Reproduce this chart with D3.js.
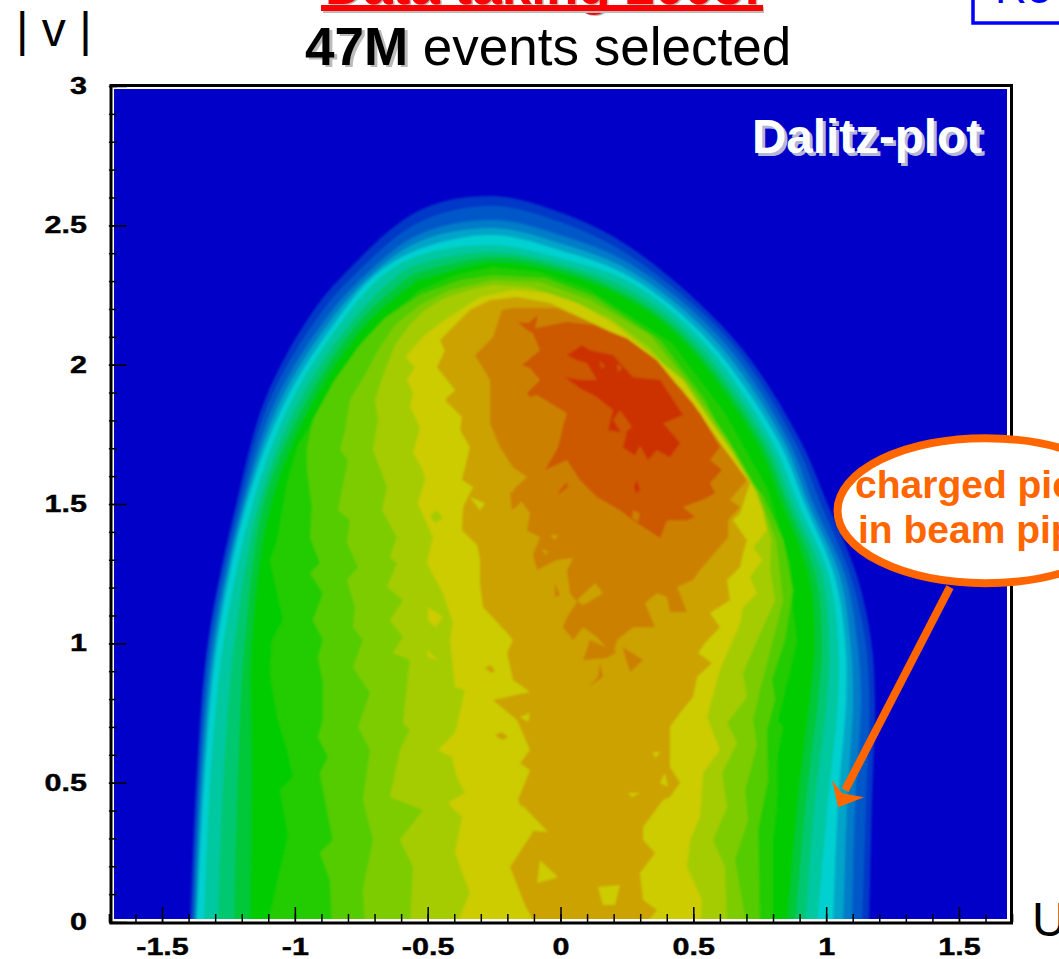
<!DOCTYPE html>
<html><head><meta charset="utf-8">
<style>html,body{margin:0;padding:0;background:#fff;overflow:hidden}svg{display:block;font-family:"Liberation Sans",Arial,sans-serif}</style>
<script src="https://cdnjs.cloudflare.com/ajax/libs/d3/7.8.5/d3.min.js"></script>
</head><body><svg id="c" width="1059" height="959"></svg>
<script>
// ---- axis values
const xTicks = [-1.5,-1,-0.5,0,0.5,1,1.5];
const yTicks = [0,0.5,1,1.5,2,2.5,3];
const xMinor = d3.range(-17,18).map(d=>d/10);
const yMinor = d3.range(0,31).map(d=>d/10);
// ---- level colours, outer to inner
const backgroundColor = "#0000c8";
const smoothBandColors = ["#0438c8","#0058c8","#007cc8","#00a4c8","#00d0d0","#00c8a0","#00c870","#00c838","#00cc00"];
const jaggedBandColors = ["#20cc00","#55cc00","#7dcc00","#a5cc00","#cccc00","#cca200","#cc8000","#cc5800","#cc3000"];
// ---- smooth outer contours: read at fixed |v| (left side), fixed U (crest), fixed |v| (right side)
const leftV = [-0.02,0.545,1.012,1.514,1.873,2.16,2.321];
const crestU = [-0.529,-0.254,-0.002,0.262];
const rightV = [2.088,1.729,1.496,1.245,1.012,0.797,0.438,-0.02];
const bandLeftU = [
 [-1.395,-1.369,-1.327,-1.218,-1.113,-0.954,-0.819],
 [-1.387,-1.361,-1.320,-1.207,-1.094,-0.921,-0.777],
 [-1.380,-1.354,-1.308,-1.195,-1.071,-0.887,-0.736],
 [-1.374,-1.346,-1.299,-1.186,-1.052,-0.864,-0.713],
 [-1.369,-1.338,-1.290,-1.177,-1.033,-0.842,-0.698],
 [-1.342,-1.316,-1.267,-1.154,-1.011,-0.819,-0.668],
 [-1.290,-1.267,-1.226,-1.131,-0.981,-0.781,-0.612],
 [-1.229,-1.214,-1.188,-1.113,-0.954,-0.751,-0.559],
 [-1.169,-1.162,-1.162,-1.086,-0.928,-0.717,-0.510]];
const bandCrestV = [
 [2.555,2.605,2.547,2.422],
 [2.512,2.569,2.512,2.390],
 [2.469,2.519,2.465,2.361],
 [2.443,2.490,2.436,2.336],
 [2.415,2.465,2.411,2.315],
 [2.393,2.429,2.382,2.296],
 [2.361,2.404,2.361,2.268],
 [2.332,2.386,2.347,2.246],
 [2.307,2.368,2.332,2.232]];
const bandRightU = [
 [0.657,0.902,1.007,1.115,1.169,1.184,1.173,1.162],
 [0.634,0.879,0.981,1.090,1.146,1.162,1.150,1.135],
 [0.608,0.857,0.954,1.070,1.116,1.131,1.109,1.097],
 [0.582,0.838,0.936,1.050,1.090,1.101,1.079,1.064],
 [0.555,0.819,0.921,1.030,1.071,1.075,1.045,1.026],
 [0.533,0.796,0.898,1.010,1.045,1.045,1.007,0.966],
 [0.503,0.774,0.875,0.985,1.011,1.003,0.958,0.921],
 [0.480,0.755,0.857,0.960,0.985,0.970,0.925,0.883],
 [0.461,0.736,0.838,0.935,0.958,0.939,0.894,0.853]];
// ---- jagged inner contours as [U,|v|]
const contourH = [[-1.105,-.02],[-1.067,.14],[-1.026,.305],[-1.056,.474],[-1.007,.52],[-1.03,.617],[-1.067,.736],[-1.094,.893],[-1.086,1.012],[-1.045,1.084],[-1.094,1.299],[-1.067,1.371],[-1.03,1.575],[-.988,1.711],[-.894,1.855],[-.793,1.998],[-.729,2.088],[-.631,2.189],[-.529,2.268],[-.397,2.321],[-.254,2.35],[-.077,2.332],[.111,2.268],[.42,2.077],[.619,1.826],[.781,1.55],[.864,1.288],[.875,1.119],[.89,1.012],[.883,.976],[.853,.857],[.819,.725],[.838,.70],[.819,.606],[.815,.413],[.80,.294],[.80,-.02]];
const contourI = [[-.86,-.02],[-.868,.151],[-.906,.248],[-.857,.294],[-.906,.535],[-.875,.592],[-.913,.664],[-.894,.725],[-.894,.858],[-.913,.951],[-.894,1.012],[-.932,1.084],[-.894,1.18],[-.943,1.252],[-.906,1.288],[-.943,1.381],[-.936,1.489],[-.954,1.622],[-.954,1.704],[-.932,1.801],[-.849,1.945],[-.755,2.07],[-.661,2.167],[-.529,2.25],[-.378,2.303],[-.254,2.321],[-.058,2.311],[.13,2.243],[.375,2.088],[.544,1.873],[.676,1.622],[.762,1.532],[.838,1.371],[.875,1.191],[.845,1.012],[.796,.868],[.808,.797],[.777,.689],[.781,.51],[.744,.33],[.751,-.02]];
const contourJ = [[-.736,-.02],[-.744,.115],[-.706,.294],[-.744,.438],[-.717,.617],[-.762,.70],[-.717,.822],[-.781,.915],[-.744,1.012],[-.781,1.058],[-.774,1.13],[-.804,1.227],[-.762,1.274],[-.804,1.36],[-.793,1.442],[-.838,1.478],[-.80,1.658],[-.83,1.694],[-.811,1.765],[-.793,1.873],[-.736,1.963],[-.687,2.052],[-.623,2.142],[-.529,2.214],[-.416,2.268],[-.254,2.303],[-.077,2.296],[.111,2.232],[.337,2.106],[.488,1.927],[.631,1.729],[.744,1.543],[.811,1.371],[.838,1.155],[.80,1.012],[.751,.832],[.725,.725],[.74,.635],[.695,.474],[.706,.366],[.657,.222],[.702,-.02]];
const contourK = [[-.567,-.02],[-.555,.197],[-.604,.294],[-.518,.402],[-.642,.449],[-.604,.617],[-.567,.689],[-.593,.714],[-.567,.94],[-.631,.965],[-.593,1.023],[-.642,1.084],[-.593,1.155],[-.653,1.202],[-.616,1.288],[-.642,1.31],[-.616,1.381],[-.672,1.478],[-.653,1.561],[-.706,1.694],[-.687,1.801],[-.698,1.873],[-.661,1.981],[-.623,2.07],[-.567,2.142],[-.51,2.196],[-.435,2.239],[-.341,2.268],[-.254,2.286],[-.115,2.278],[.036,2.232],[.186,2.167],[.337,2.06],[.488,1.891],[.619,1.711],[.74,1.543],[.793,1.371],[.789,1.263],[.808,1.155],[.74,1.012],[.687,.893],[.702,.807],[.627,.714],[.665,.642],[.608,.535],[.627,.413],[.574,.294],[.619,.197],[.627,-.02]];
const contourY = [[-.397,-.02],[-.341,.104],[-.397,.248],[-.371,.377],[-.424,.427],[-.36,.463],[-.39,.52],[-.409,.592],[-.461,.617],[-.397,.678],[-.36,.832],[-.397,.843],[-.416,1.012],[-.405,1.073],[-.442,1.18],[-.503,1.288],[-.48,1.381],[-.537,1.503],[-.51,1.586],[-.518,1.622],[-.555,1.683],[-.529,1.776],[-.567,1.848],[-.555,1.898],[-.578,1.945],[-.548,1.991],[-.585,2.027],[-.518,2.099],[-.454,2.149],[-.378,2.196],[-.303,2.242],[-.179,2.268],[-.051,2.257],[.073,2.217],[.198,2.149],[.337,2.042],[.461,1.945],[.563,1.801],[.649,1.683],[.725,1.561],[.762,1.478],[.777,1.406],[.725,1.345],[.759,1.299],[.713,1.238],[.74,1.18],[.687,1.13],[.676,1.073],[.649,1.012],[.60,.904],[.552,.736],[.60,.617],[.537,.535],[.525,.377],[.488,.294],[.476,.197],[.533,.079],[.525,-.02]];
const contourO1 = [[-.088,-.02],[-.134,.061],[-.19,.197],[-.104,.323],[-.16,.438],[-.115,.545],[-.152,.57],[-.115,.617],[-.164,.725],[-.254,.797],[-.115,.825],[-.179,.868],[-.201,.965],[-.179,1.012],[-.201,1.037],[-.292,1.13],[-.303,1.216],[-.303,1.299],[-.314,1.353],[-.371,1.406],[-.367,1.489],[-.329,1.561],[-.371,1.586],[-.341,1.704],[-.378,1.765],[-.371,1.812],[-.435,1.873],[-.397,1.909],[-.465,1.991],[-.435,2.052],[-.454,2.088],[-.405,2.135],[-.341,2.196],[-.265,2.232],[-.164,2.243],[-.04,2.221],[.073,2.171],[.213,2.099],[.348,2.006],[.461,1.909],[.589,1.729],[.649,1.658],[.713,1.575],[.676,1.467],[.649,1.442],[.702,1.371],[.687,1.324],[.676,1.274],[.627,1.227],[.638,1.155],[.563,1.109],[.60,1.058],[.544,1.001],[.518,.965],[.57,.929],[.514,.879],[.499,.807],[.45,.75],[.412,.70],[.412,.556],[.45,.499],[.412,.449],[.386,.438],[.311,.341],[.311,.294],[.356,.248],[.299,.176],[.311,.079],[.363,.043],[.311,-.02]];
const contourO2 = [[-.22,2.196],[-.179,2.203],[-.013,2.203],[.137,2.142],[.273,2.077],[.386,1.981],[.499,1.862],[.593,1.729],[.702,1.586],[.638,1.514],[.676,1.489],[.631,1.442],[.631,1.381],[.574,1.317],[.525,1.263],[.499,1.227],[.439,1.202],[.476,1.112],[.412,1.112],[.401,1.166],[.363,1.18],[.318,1.145],[.356,1.058],[.273,1.058],[.213,1.012],[.198,.958],[.137,1.023],[.085,1.058],[.047,1.012],[.009,1.058],[.024,1.094],[.062,1.148],[.036,1.18],[.024,1.263],[.047,1.306],[-.013,1.299],[-.088,1.263],[-.104,1.317],[-.077,1.381],[-.126,1.406],[-.115,1.467],[-.179,1.55],[-.126,1.597],[-.179,1.632],[-.228,1.704],[-.265,1.79],[-.265,1.945],[-.322,2.034],[-.254,2.099]];
const contourO3 = [[-.16,2.153],[-.122,2.149],[-.085,2.178],[-.096,2.131],[.024,2.153],[.122,2.142],[.25,2.095],[.363,2.016],[.476,1.884],[.525,1.826],[.60,1.704],[.563,1.658],[.608,1.622],[.563,1.575],[.582,1.539],[.533,1.514],[.461,1.489],[.506,1.453],[.476,1.442],[.401,1.442],[.375,1.378],[.273,1.442],[.224,1.478],[.137,1.525],[.073,1.586],[.024,1.658],[-.058,1.622],[-.009,1.704],[.009,1.776],[.024,1.826],[-.088,1.891],[-.115,1.884],[-.126,1.898],[-.077,1.945],[-.115,1.988],[-.145,1.998],[-.077,2.052],[-.104,2.113],[-.126,2.124]];
const contourO4 = [[.024,2.034],[.081,2.07],[.111,2.052],[.198,2.034],[.273,1.955],[.375,1.945],[.461,1.819],[.386,1.79],[.45,1.719],[.412,1.668],[.363,1.694],[.329,1.658],[.299,1.711],[.28,1.675],[.235,1.704],[.25,1.754],[.179,1.765],[.198,1.837],[.137,1.884],[.073,1.916],[.017,1.955],[.073,1.945],[.137,1.945],[.10,2.006],[.062,2.016]];
const jaggedContours = [contourH,contourI,contourJ,contourK,contourY,contourO1,contourO2,contourO3,contourO4];
// ---- small islands: outline, and index into jaggedBandColors
const islandShapes = [
 [[.224,1.837],[.269,1.776],[.235,1.747],[.198,1.801]],
 [[.149,2.016],[.168,1.991],[.152,1.988]],
 [[.213,2.006],[.232,1.991],[.216,1.97]],
 [[.288,1.586],[.299,1.55],[.284,1.539],[.277,1.564]],
 [[.273,1.478],[.299,1.467],[.292,1.435],[.269,1.45]],
 [[-.002,1.55],[.024,1.579],[.028,1.561],[-.013,1.532]],
 [[.235,.987],[.311,.94],[.262,.897],[.243,.951]],
 [[.111,1.012],[.213,.969],[.175,.947],[.085,.94]],
 [[.149,.929],[.16,.879],[.104,.843],[.141,.879]],
 [[-.19,1.543],[-.134,1.543],[-.152,1.503],[-.183,1.478]],
 [[-.021,1.216],[-.002,1.173],[-.021,1.166]],
 [[.13,1.216],[.16,1.18],[.085,1.137],[.062,1.155]],
 [[-.04,1.389],[-.009,1.389],[-.021,1.371]],
 [[-.07,1.342],[-.047,1.327],[-.058,1.317]],
 [[-.145,.42],[-.047,.323],[-.145,.33]],
 [[-.077,.222],[-.009,.161],[-.088,.14]],
 [[.141,.126],[.224,.133],[.205,.061],[.16,.061]],
 [[-.152,.736],[-.115,.75],[-.122,.718]],
 [[.348,.61],[.375,.61],[.356,.588]],
 [[.375,.499],[.393,.535],[.405,.484]],
 [[.254,.463],[.299,.463],[.269,.449]],
 [[-.341,1.525],[-.284,1.503],[-.303,1.478]],
 [[-.247,.671],[-.22,.682],[-.198,.664],[-.22,.653]],
 [[-.284,.911],[-.265,.922],[-.247,.904],[-.258,.893]],
 [[-.491,1.458],[-.465,1.478],[-.442,1.449],[-.472,1.431]],
 [[-.499,1.13],[-.442,1.094],[-.472,1.058],[-.499,1.084]],
 [[-.503,.976],[-.461,.94],[-.499,.951]]];
const islandFill = [7,7,7,8,6,7,6,6,6,6,6,5,5,5,4,4,4,4,4,4,4,4,5,5,3,4,4];
// ---- annotation anchors in plot units
const calloutCentre = [1.60,1.476];
const arrowTail = [1.466,1.202];
const arrowTip = [1.045,0.412];

const svg = d3.select("#c");
const x = d3.scaleLinear().domain([-1.7,1.7]).range([108.9,1012.1]);
const y = d3.scaleLinear().domain([0,3]).range([922,86]);
const orange = "#ff6600";

const defs = svg.append("defs");
defs.append("clipPath").attr("id","plot").append("rect").attr("x",114).attr("y",89).attr("width",893).attr("height",830);
defs.append("filter").attr("id","soft").attr("x","-5%").attr("y","-5%").attr("width","110%").attr("height","110%")
  .append("feGaussianBlur").attr("stdDeviation",1);

// plot fill
const plot = svg.append("g").attr("clip-path","url(#plot)");
plot.append("rect").attr("x",x(-1.7)).attr("y",y(3)).attr("width",x(1.7)-x(-1.7)).attr("height",y(0)-y(3)).attr("fill",backgroundColor);
const soft = plot.append("g").attr("filter","url(#soft)");
const smooth = d3.line().x(d=>x(d[0])).y(d=>y(d[1])).curve(d3.curveCatmullRom.alpha(0.5));
const jag = d3.line().x(d=>x(d[0])).y(d=>y(d[1]));
smoothBandColors.forEach((c,i)=>{
  const pts = [...leftV.map((v,k)=>[bandLeftU[i][k],v]),
               ...crestU.map((u,k)=>[u,bandCrestV[i][k]]),
               ...rightV.map((v,k)=>[bandRightU[i][k],v])];
  soft.append("path").attr("d",smooth(pts)+"Z").attr("fill",c);
});
jaggedContours.forEach((pts,i)=>{
  soft.append("path").attr("d",jag(pts)+"Z").attr("fill",jaggedBandColors[i]);
});
islandShapes.forEach((pts,i)=>{
  soft.append("path").attr("d",jag(pts)+"Z").attr("fill",jaggedBandColors[islandFill[i]]);
});

// ticks
function styleAxis(g){ g.select(".domain").remove(); g.selectAll("line").attr("stroke","#000").attr("stroke-width",1.5); }
svg.append("g").attr("transform",`translate(0,${y(0)})`)
  .call(d3.axisBottom(x).tickValues(xMinor).tickSizeInner(-8).tickSizeOuter(0).tickFormat("")).call(styleAxis);
svg.append("g").attr("transform",`translate(${x(-1.7)},0)`)
  .call(d3.axisLeft(y).tickValues(yMinor).tickSizeInner(-8).tickSizeOuter(0).tickFormat("")).call(styleAxis);
const xMajor = svg.append("g").attr("transform",`translate(0,${y(0)})`)
  .call(d3.axisBottom(x).tickValues(xTicks).tickSizeInner(-15).tickSizeOuter(0).tickPadding(16).tickFormat(d=>String(d))).call(styleAxis);
const yMajor = svg.append("g").attr("transform",`translate(${x(-1.7)},0)`)
  .call(d3.axisLeft(y).tickValues(yTicks).tickSizeInner(-18).tickSizeOuter(0).tickPadding(22).tickFormat(d=>String(d))).call(styleAxis);
const sx = 1.3;
xMajor.selectAll("text").attr("y",16).attr("font-size",23.5).attr("font-weight","bold").attr("fill","#000").attr("stroke","#000").attr("stroke-width",0.4).attr("font-family","Liberation Sans")
  .attr("transform",`scale(${sx},1)`);
yMajor.selectAll("text").attr("font-size",23.5).attr("font-weight","bold").attr("fill","#000").attr("stroke","#000").attr("stroke-width",0.4).attr("font-family","Liberation Sans")
  .attr("x",-22/sx).attr("transform",`scale(${sx},1)`);

// frame
svg.append("rect").attr("x",111).attr("y",85.5).attr("width",900.5).attr("height",837.5)
  .attr("fill","none").attr("stroke","#000").attr("stroke-width",3);

// Dalitz-plot label
[[3,3,"#b4b8d8"],[0,0,"#fff"]].forEach(([dx,dy,c])=>{
  svg.append("text").attr("x",752+dx).attr("y",153+dy).attr("font-size",47.6).attr("font-weight","bold").attr("fill",c).text("Dalitz-plot");
});

// headings
svg.append("text").attr("x",326.5).attr("y",5).attr("font-size",53).attr("font-weight","bold").attr("fill","#bbb").text("Data taking 2003:");
svg.append("text").attr("x",325).attr("y",3.5).attr("font-size",53).attr("font-weight","bold").attr("fill","#ff0000").text("Data taking 2003:");
svg.append("rect").attr("x",323).attr("y",7).attr("width",441).attr("height",6).attr("fill","#bbb");
svg.append("rect").attr("x",321).attr("y",5).attr("width",442).attr("height",6).attr("fill","#ff0000");
svg.append("text").attr("x",308).attr("y",67).attr("font-size",53).attr("font-weight","bold").attr("fill","#bbb").text("47M");
const h2 = svg.append("text").attr("x",305).attr("y",64.5).attr("font-size",53).attr("fill","#000");
h2.append("tspan").attr("font-weight","bold").text("47M");
h2.append("tspan").text(" events selected");
svg.append("text").attr("x",16).attr("y",46).attr("font-size",48).attr("fill","#000").attr("xml:space","preserve").text("| v |");
svg.append("text").attr("x",1032).attr("y",936).attr("font-size",48).attr("fill","#000").text("U");

// results box, cut by the page top
svg.append("rect").attr("x",973).attr("y",-20).attr("width",120).attr("height",43).attr("fill","#fff").attr("stroke","#0000ff").attr("stroke-width",3.5);
svg.append("text").attr("x",995).attr("y",3).attr("font-size",44).attr("fill","#0000ff").text("Re");

// callout
svg.append("ellipse").attr("cx",x(calloutCentre[0])).attr("cy",y(calloutCentre[1])).attr("rx",148).attr("ry",72.5)
  .attr("fill","#fff").attr("stroke",orange).attr("stroke-width",8);
[["charged pions",855,498],["in beam pipe",858,543]].forEach(([t,tx,ty])=>{
  svg.append("text").attr("x",tx).attr("y",ty).attr("font-size",39).attr("font-weight","bold").attr("fill",orange).text(t);
});
const tx = x(arrowTip[0]), ty = y(arrowTip[1]);
svg.append("line").attr("x1",x(arrowTail[0])).attr("y1",y(arrowTail[1])).attr("x2",tx+7).attr("y2",ty-17)
  .attr("stroke",orange).attr("stroke-width",8);
svg.append("path").attr("fill",orange)
  .attr("d",d3.line()([[tx,ty],[tx-6,ty-27],[tx+4,ty-14],[tx+26,ty-10]])+"Z");
</script></body></html>
